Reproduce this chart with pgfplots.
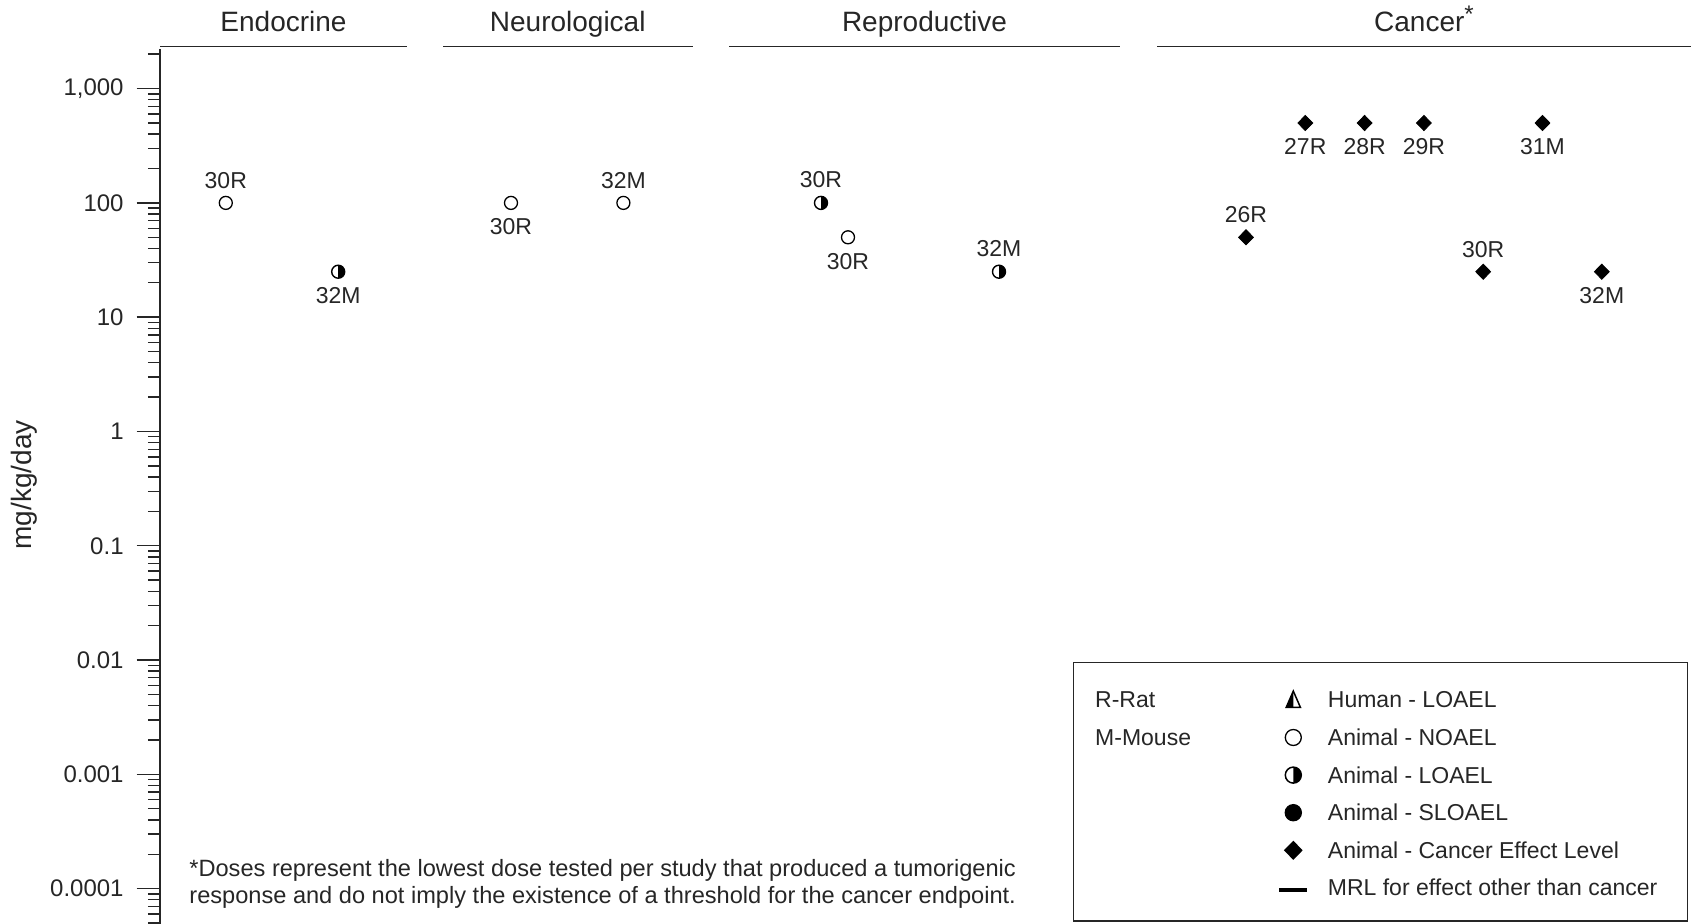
\documentclass[border=0pt]{standalone}
\usepackage{pgfplots}
\pgfplotsset{compat=1.18}
\usepackage{pgfplotstable}
\usepackage{fontspec}
\setmainfont{Liberation Sans}
\usetikzlibrary{plotmarks}

% Animal LOAEL: right half filled circle
\pgfdeclareplotmark{halfright}{%
  \pgfpathmoveto{\pgfqpoint{0pt}{\pgfplotmarksize}}%
  \pgfpatharc{90}{-90}{\pgfplotmarksize}%
  \pgfpathclose
  \pgfusepathqfill
  \pgfpathcircle{\pgfpointorigin}{\pgfplotmarksize}%
  \pgfusepathqstroke
}
% Human LOAEL: triangle with left half filled
\pgfdeclareplotmark{halftri}{%
  \pgfpathmoveto{\pgfqpoint{0pt}{1.05\pgfplotmarksize}}%
  \pgfpathlineto{\pgfqpoint{-0.85\pgfplotmarksize}{-0.9\pgfplotmarksize}}%
  \pgfpathlineto{\pgfqpoint{0pt}{-0.9\pgfplotmarksize}}%
  \pgfpathclose
  \pgfusepathqfill
  \pgfpathmoveto{\pgfqpoint{0pt}{1.05\pgfplotmarksize}}%
  \pgfpathlineto{\pgfqpoint{-0.85\pgfplotmarksize}{-0.9\pgfplotmarksize}}%
  \pgfpathlineto{\pgfqpoint{0.85\pgfplotmarksize}{-0.9\pgfplotmarksize}}%
  \pgfpathclose
  \pgfusepathqstroke
}

% Animal NOAEL
\pgfplotstableread{
x y lab
225.8 100 30R
623.4 100 32M
}\noaelA
\pgfplotstableread{
x y lab
511.0 100 30R
848.0 50 30R
}\noaelB
% Animal LOAEL
\pgfplotstableread{
x y lab
821.0 100 30R
999.0 25 32M
}\loaelA
\pgfplotstableread{
x y lab
338.2 25 32M
}\loaelB
% Animal cancer effect level
\pgfplotstableread{
x y lab
1246.0 50 26R
1483.2 25 30R
}\celA
\pgfplotstableread{
x y lab
1305.3 500 27R
1364.6 500 28R
1423.9 500 29R
1542.5 500 31M
1601.8 25 32M
}\celB

\pgfplotsset{
  lababove/.style={
    nodes near coords,
    point meta=explicit symbolic,
    nodes near coords align={anchor=south},
    every node near coord/.append style={anchor=south, inner xsep=0pt, inner ysep=7.0pt,
      font=\fontsize{11.5}{13}\selectfont, text=black!85},
  },
  labbelow/.style={
    nodes near coords,
    point meta=explicit symbolic,
    nodes near coords align={anchor=north},
    every node near coord/.append style={anchor=north, inner xsep=0pt, inner ysep=7.6pt,
      font=\fontsize{11.5}{13}\selectfont, text=black!85},
  },
  noaelstyle/.style={forget plot, only marks, mark=o, mark size=3.25pt, mark options={black, line width=0.65pt}},
  loaelstyle/.style={forget plot, only marks, mark=halfright, mark size=3.25pt, mark options={black, fill=black, line width=0.7pt}},
  celstyle/.style={forget plot, only marks, mark=diamond*, mark size=3.8pt, mark options={black, fill=black, xscale=1.3}},
}

\begin{document}
\begin{tikzpicture}
\useasboundingbox (0,0) rectangle (847pt,462pt);
\begin{axis}[
  at={(80pt,0pt)}, anchor=south west,
  scale only axis, width=767pt, height=437.7pt,
  xmin=160, xmax=1694,
  ymode=log, ymin=4.91e-5, ymax=2239,
  axis x line=none,
  axis y line*=left,
  y axis line style={line width=0.9pt, black!85},
  ytick={1e-4,1e-3,1e-2,1e-1,1,10,100,1000},
  yticklabels={0.0001,0.001,0.01,0.1,1,10,100,{1,000}},
  minor ytick={5e-5,6e-5,7e-5,8e-5,9e-5,
    2e-4,3e-4,4e-4,5e-4,6e-4,7e-4,8e-4,9e-4,
    2e-3,3e-3,4e-3,5e-3,6e-3,7e-3,8e-3,9e-3,
    0.02,0.03,0.04,0.05,0.06,0.07,0.08,0.09,
    0.2,0.3,0.4,0.5,0.6,0.7,0.8,0.9,
    2,3,4,5,6,7,8,9,
    20,30,40,50,60,70,80,90,
    200,300,400,500,600,700,800,900,2000},
  tick align=outside,
  major tick length=11.7pt, minor tick length=6pt,
  every tick/.style={black!85, line width=0.7pt},
  yticklabel style={font=\fontsize{12}{14}\selectfont, inner xsep=6.3pt, text=black!85},
  ylabel={mg/kg/day},
  ylabel style={at={(axis description cs:-0.0888,0.5015)}, anchor=center,
    font=\fontsize{14}{16}\selectfont, text=black!85},
  clip=false,
  legend columns=2,
  legend cell align=left,
  legend image post style={yshift=-1pt},
  legend style={at={(axis description cs:0.59518,0.29929)}, anchor=north west,
    draw=black!85, line width=0.7pt, inner xsep=10.75pt, inner ysep=8.2pt,
    font=\fontsize{11.5}{13}\selectfont, text=black!85,
    nodes={inner sep=0pt, text height=14.4pt, text depth=4.4pt},
    row sep=0pt, column sep=0pt},
]
% legend
\addlegendimage{empty legend}
\addlegendentry{\makebox[91.05pt][l]{R-Rat}}
\addlegendimage{only marks, mark=halftri, mark size=4.2pt, mark options={black, fill=black, line width=0.75pt}}
\addlegendentry{\hspace*{9.3pt}Human - LOAEL}
\addlegendimage{empty legend}
\addlegendentry{\makebox[91.05pt][l]{M-Mouse}}
\addlegendimage{only marks, mark=o, mark size=4.0pt, mark options={black, line width=0.65pt}}
\addlegendentry{\hspace*{9.3pt}Animal - NOAEL}
\addlegendimage{empty legend}
\addlegendentry{\mbox{}}
\addlegendimage{only marks, mark=halfright, mark size=4.0pt, mark options={black, fill=black, line width=0.75pt}}
\addlegendentry{\hspace*{9.3pt}Animal - LOAEL}
\addlegendimage{empty legend}
\addlegendentry{\mbox{}}
\addlegendimage{only marks, mark=*, mark size=4.0pt, mark options={black, fill=black}}
\addlegendentry{\hspace*{9.3pt}Animal - SLOAEL}
\addlegendimage{empty legend}
\addlegendentry{\mbox{}}
\addlegendimage{only marks, mark=diamond*, mark size=4.3pt, mark options={black, fill=black, xscale=1.3}}
\addlegendentry{\hspace*{9.3pt}Animal - Cancer Effect Level}
\addlegendimage{empty legend}
\addlegendentry{\mbox{}}
\addlegendimage{legend image code/.code={\draw[black, line width=2pt] (1.54pt,-1pt) -- (15.54pt,-1pt);}}
\addlegendentry{\hspace*{9.3pt}MRL for effect other than cancer\hspace*{4.4pt}}

% data
\addplot[noaelstyle, lababove] table[x=x, y=y, meta=lab] {\noaelA};
\addplot[noaelstyle, labbelow] table[x=x, y=y, meta=lab] {\noaelB};
\addplot[loaelstyle, lababove] table[x=x, y=y, meta=lab] {\loaelA};
\addplot[loaelstyle, labbelow] table[x=x, y=y, meta=lab] {\loaelB};
\addplot[celstyle, lababove] table[x=x, y=y, meta=lab] {\celA};
\addplot[celstyle, labbelow] table[x=x, y=y, meta=lab] {\celB};

% category headers
\draw[black!85, line width=0.9pt] ([yshift=1pt]axis cs:160,2239) -- ([yshift=1pt]axis cs:407,2239);
\draw[black!85, line width=0.9pt] ([yshift=1pt]axis cs:443,2239) -- ([yshift=1pt]axis cs:692.5,2239);
\draw[black!85, line width=0.9pt] ([yshift=1pt]axis cs:729,2239) -- ([yshift=1pt]axis cs:1120,2239);
\draw[black!85, line width=0.9pt] ([yshift=1pt]axis cs:1157,2239) -- ([yshift=1pt]axis cs:1691,2239);
\begin{scope}[every node/.style={anchor=base, font=\fontsize{14}{16}\selectfont, text=black!85}]
\node at ([yshift=8.65pt]axis cs:283.5,2239) {Endocrine};
\node at ([yshift=8.65pt]axis cs:567.75,2239) {Neurological};
\node at ([yshift=8.65pt]axis cs:924.5,2239) {Reproductive};
\node at ([yshift=8.65pt]axis cs:1424,2239) {Cancer\raisebox{0.3em}{\fontsize{12}{12}\selectfont *}};
\end{scope}

% footnote
\node[anchor=west, align=left, font=\fontsize{11.8}{13.5}\selectfont, text=black!85, inner sep=0pt]
  at (axis description cs:0.0189,0.0463)
  {*Doses represent the lowest dose tested per study that produced a tumorigenic\\response and do not imply the existence of a threshold for the cancer endpoint.};
\end{axis}
\end{tikzpicture}
\end{document}
